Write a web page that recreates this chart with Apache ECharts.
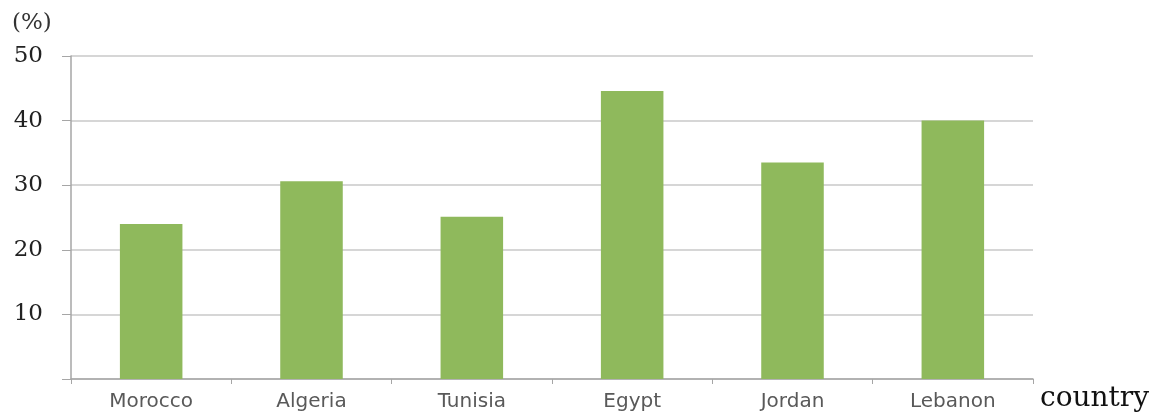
<!DOCTYPE html>
<html>
<head>
<meta charset="utf-8">
<script src="https://cdn.jsdelivr.net/npm/echarts@6/dist/echarts.min.js"></script>
<style>
html,body{margin:0;padding:0;background:#fff;}
#chart{width:1176px;height:414px;}
</style>
</head>
<body>
<div id="chart"></div>
<script>
const categories = ['Morocco', 'Algeria', 'Tunisia', 'Egypt', 'Jordan', 'Lebanon'];
const values = [24.0, 30.6, 25.1, 44.6, 33.5, 40.0];
const yTicks = { min: 0, max: 50, interval: 10 };
const yUnit = '(%)';
const xName = 'country';

const chart = echarts.init(document.getElementById('chart'), null, { renderer: 'canvas' });
chart.setOption({
  backgroundColor: '#ffffff',
  animation: false,
  title: {
    text: yUnit,
    left: 7,
    top: 7,
    textStyle: { fontFamily: 'DejaVu Serif', fontSize: 23, fontWeight: 'normal', color: '#333333' }
  },
  grid: { left: 71, right: 143, top: 56, bottom: 35, containLabel: false },
  xAxis: {
    type: 'category',
    data: categories,
    name: xName,
    nameLocation: 'end',
    nameGap: 7,
    nameTextStyle: {
      fontFamily: 'DejaVu Serif', fontSize: 28, color: '#111111',
      verticalAlign: 'top', align: 'left', padding: [6, 0, 0, 0]
    },
    axisLine: { show: true, lineStyle: { color: '#a6a6a6', width: 1.5 } },
    axisTick: { show: true, length: 5, lineStyle: { color: '#a6a6a6' } },
    axisLabel: {
      fontFamily: 'DejaVu Sans', fontSize: 20, color: '#595959', margin: 13
    }
  },
  yAxis: {
    type: 'value',
    min: yTicks.min,
    max: yTicks.max,
    interval: yTicks.interval,
    axisLine: { show: true, lineStyle: { color: '#a6a6a6', width: 1.5 } },
    axisTick: { show: true, inside: false, length: 9, lineStyle: { color: '#a6a6a6' } },
    splitLine: { show: true, lineStyle: { color: '#c8c8c8', width: 1.5 } },
    axisLabel: {
      fontFamily: 'DejaVu Serif', fontSize: 23, color: '#222222', margin: 28,
      formatter: function (v) { return v === 0 ? '' : String(v); }
    }
  },
  series: [{
    type: 'bar',
    data: values,
    barWidth: '39%',
    itemStyle: { color: '#8fb95c' }
  }]
});
</script>
</body>
</html>
